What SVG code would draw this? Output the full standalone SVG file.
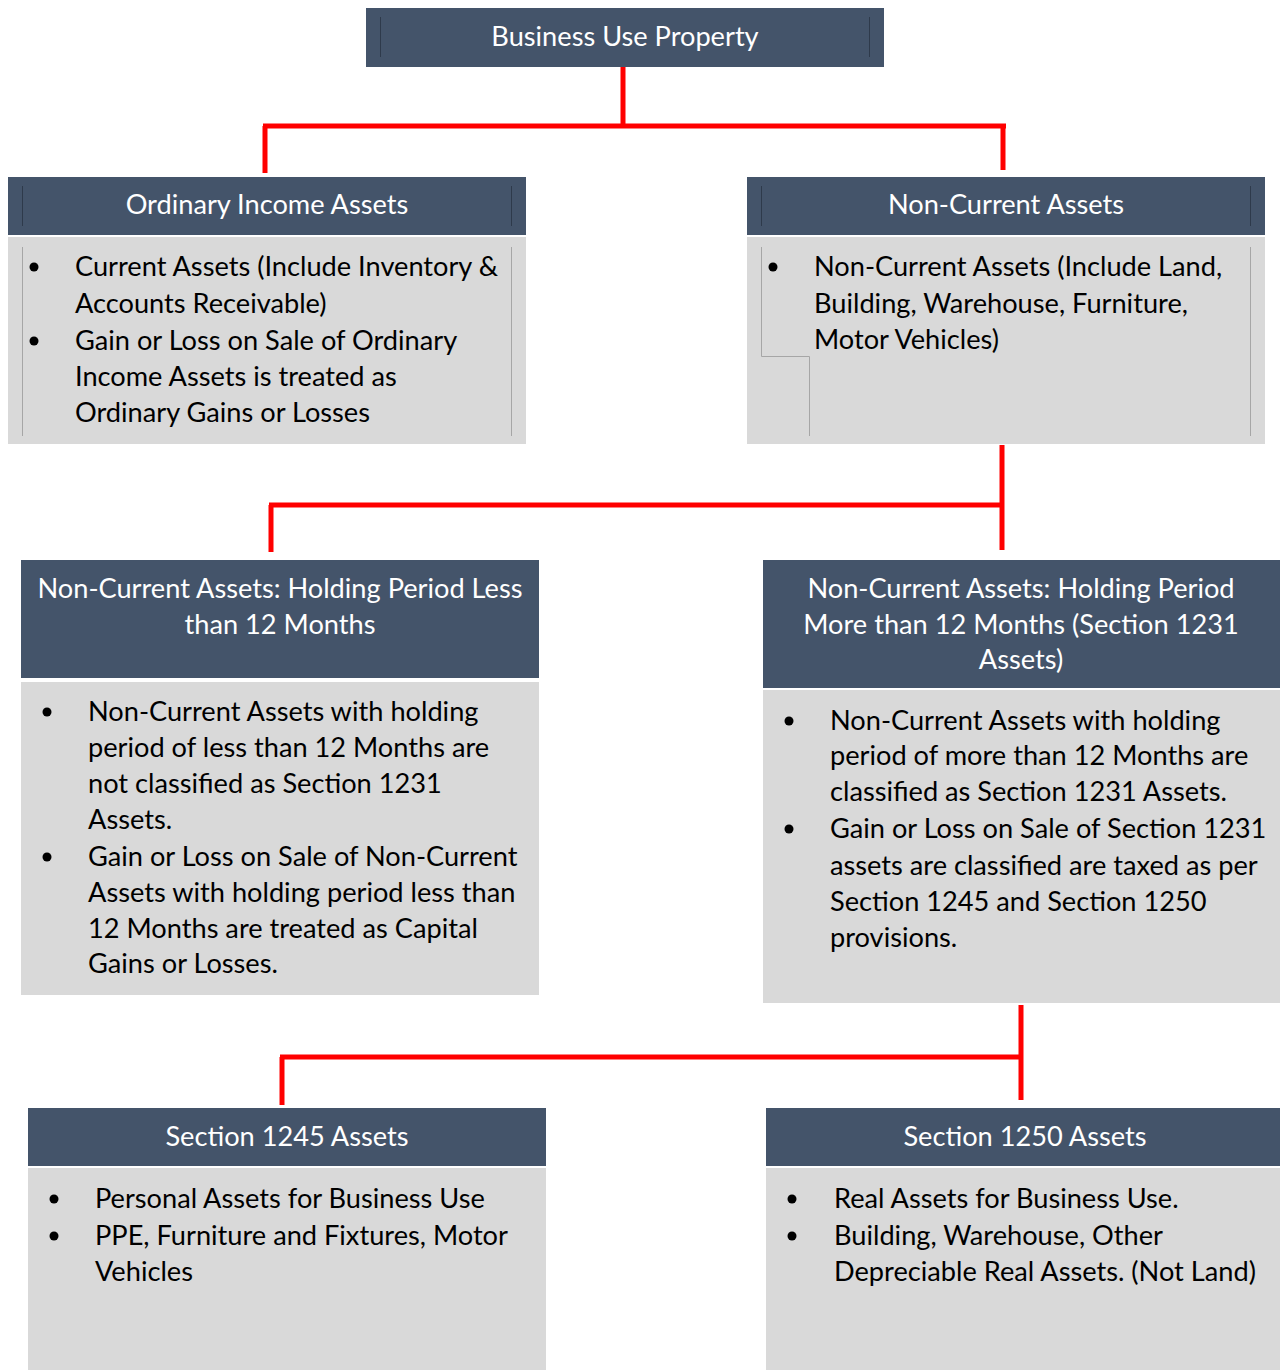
<svg xmlns="http://www.w3.org/2000/svg" width="1280" height="1370" viewBox="0 0 1280 1370">
<style>
.hdr{fill:#44546A}
.body{fill:#D9D9D9}
.ht{font-family:Lato,"Open Sans",sans-serif;font-size:27.2px;fill:#FFFFFF;text-anchor:middle}
.bt{font-family:Lato,"Open Sans",sans-serif;font-size:27.2px;fill:#000000}
.dl{stroke:#2E3A4B;stroke-width:1;fill:none}
.gl{stroke:#A6A6A6;stroke-width:1;fill:none}
.con{stroke:#FF0000;stroke-width:5;fill:none}
.bul{fill:#000000}
</style>
<rect width="1280" height="1370" fill="#FFFFFF"/>
<g id="connectors">
<path class="con" d="M623 67 V126 M263 126 H1006 M265 126 V173 M1003 126 V170"/>
<path class="con" d="M1002 445 V550 M269 505 H1002 M271 505 V552"/>
<path class="con" d="M1021 1005 V1100 M280 1057 H1021 M282 1057 V1105"/>
</g>
<g id="business-use-property">
<rect class="hdr" x="366" y="8" width="518" height="59"/>
<path class="dl" d="M380.5 17 V57 M869.5 17 V57"/>
<text class="ht" x="625" y="46">Business Use Property</text>
</g>
<g id="ordinary-income-assets">
<rect class="hdr" x="8" y="177" width="518" height="58"/>
<path class="dl" d="M22.5 186 V226 M511.5 186 V226"/>
<text class="ht" x="267" y="214">Ordinary Income Assets</text>
<rect class="body" x="8" y="237" width="518" height="207"/>
<path class="gl" d="M22.5 247 V436 M511.5 247 V436"/>
<circle class="bul" cx="34" cy="267" r="4.5"/>
<circle class="bul" cx="34" cy="341" r="4.5"/>
<text class="bt" x="75" y="276">Current Assets (Include Inventory &amp;</text>
<text class="bt" x="75" y="313">Accounts Receivable)</text>
<text class="bt" x="75" y="350">Gain or Loss on Sale of Ordinary</text>
<text class="bt" x="75" y="386">Income Assets is treated as</text>
<text class="bt" x="75" y="422">Ordinary Gains or Losses</text>
</g>
<g id="non-current-assets">
<rect class="hdr" x="747" y="177" width="518" height="58"/>
<path class="dl" d="M761.5 186 V226 M1250.5 186 V226"/>
<text class="ht" x="1006" y="214">Non-Current Assets</text>
<rect class="body" x="747" y="237" width="518" height="207"/>
<path class="gl" d="M761.5 247 V356.5 H809.5 V436 M1250.5 247 V436"/>
<circle class="bul" cx="773" cy="267" r="4.5"/>
<text class="bt" x="814" y="276">Non-Current Assets (Include Land,</text>
<text class="bt" x="814" y="313">Building, Warehouse, Furniture,</text>
<text class="bt" x="814" y="349">Motor Vehicles)</text>
</g>
<g id="holding-less-12">
<rect class="hdr" x="21" y="560" width="518" height="118"/>
<text class="ht" x="280" y="598">Non-Current Assets: Holding Period Less</text>
<text class="ht" x="280" y="634">than 12 Months</text>
<rect class="body" x="21" y="682" width="518" height="313"/>
<circle class="bul" cx="47" cy="712" r="4.5"/>
<circle class="bul" cx="47" cy="857" r="4.5"/>
<text class="bt" x="88" y="721">Non-Current Assets with holding</text>
<text class="bt" x="88" y="757">period of less than 12 Months are</text>
<text class="bt" x="88" y="793">not classified as Section 1231</text>
<text class="bt" x="88" y="829">Assets.</text>
<text class="bt" x="88" y="866">Gain or Loss on Sale of Non-Current</text>
<text class="bt" x="88" y="902">Assets with holding period less than</text>
<text class="bt" x="88" y="938">12 Months are treated as Capital</text>
<text class="bt" x="88" y="973">Gains or Losses.</text>
</g>
<g id="holding-more-12">
<rect class="hdr" x="763" y="560" width="517" height="128"/>
<text class="ht" x="1021" y="598">Non-Current Assets: Holding Period</text>
<text class="ht" x="1021" y="634">More than 12 Months (Section 1231</text>
<text class="ht" x="1021" y="669">Assets)</text>
<rect class="body" x="763" y="690" width="517" height="313"/>
<circle class="bul" cx="789" cy="721" r="4.5"/>
<circle class="bul" cx="789" cy="829" r="4.5"/>
<text class="bt" x="830" y="730">Non-Current Assets with holding</text>
<text class="bt" x="830" y="765">period of more than 12 Months are</text>
<text class="bt" x="830" y="801">classified as Section 1231 Assets.</text>
<text class="bt" x="830" y="838">Gain or Loss on Sale of Section 1231</text>
<text class="bt" x="830" y="875">assets are classified are taxed as per</text>
<text class="bt" x="830" y="911">Section 1245 and Section 1250</text>
<text class="bt" x="830" y="947">provisions.</text>
</g>
<g id="section-1245">
<rect class="hdr" x="28" y="1108" width="518" height="58"/>
<text class="ht" x="287" y="1146">Section 1245 Assets</text>
<rect class="body" x="28" y="1168" width="518" height="202"/>
<circle class="bul" cx="54" cy="1199" r="4.5"/>
<circle class="bul" cx="54" cy="1236" r="4.5"/>
<text class="bt" x="95" y="1208">Personal Assets for Business Use</text>
<text class="bt" x="95" y="1245">PPE, Furniture and Fixtures, Motor</text>
<text class="bt" x="95" y="1281">Vehicles</text>
</g>
<g id="section-1250">
<rect class="hdr" x="766" y="1108" width="514" height="58"/>
<text class="ht" x="1025" y="1146">Section 1250 Assets</text>
<rect class="body" x="766" y="1168" width="514" height="202"/>
<circle class="bul" cx="792" cy="1199" r="4.5"/>
<circle class="bul" cx="792" cy="1236" r="4.5"/>
<text class="bt" x="834" y="1208">Real Assets for Business Use.</text>
<text class="bt" x="834" y="1245">Building, Warehouse, Other</text>
<text class="bt" x="834" y="1281">Depreciable Real Assets. (Not Land)</text>
</g>
</svg>
